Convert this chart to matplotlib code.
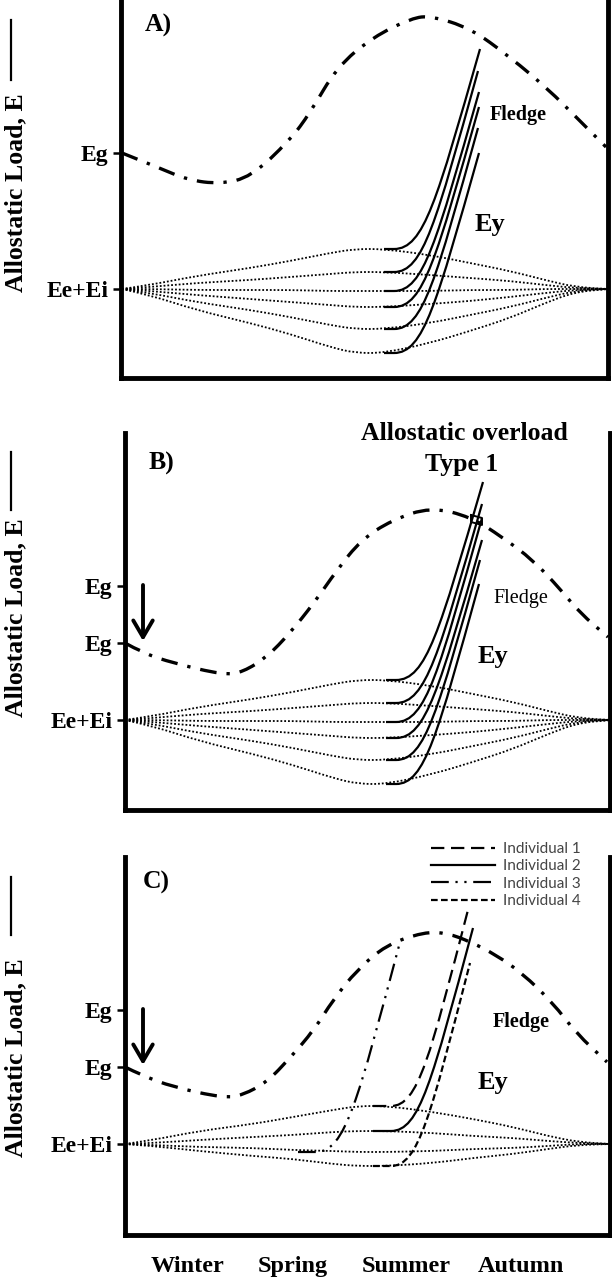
import matplotlib
matplotlib.use('Agg')
import matplotlib.pyplot as plt
from matplotlib.path import Path
from matplotlib.patches import PathPatch
from matplotlib.lines import Line2D

plt.rcParams['font.family'] = ['Liberation Serif', 'DejaVu Serif']
plt.rcParams['font.weight'] = 'bold'

W, H = 612, 1280

# ---- data (pixel units of the original figure) ----
# goal curve Eg for each panel
goal_a_x = [122, 157, 188, 220, 251, 290, 310, 337, 373, 412, 431, 470, 510, 549, 576, 606]
goal_a_y = [153, 167, 180, 184, 177, 140, 113, 67, 37, 18, 16, 28, 57, 90, 117, 147]
goal_b_x = [125, 143, 173, 224, 243, 267, 290, 314, 337, 361, 392, 431, 471, 502, 533, 561, 580, 608]
goal_b_y = [643, 653, 663, 675, 672, 657, 633, 603, 570, 540, 520, 507, 517, 537, 560, 590, 613, 637]
goal_c_x = [125, 141, 173, 224, 243, 267, 290, 314, 333, 357, 386, 424, 447, 471, 496, 522, 553, 576, 607]
goal_c_y = [1067, 1075, 1087, 1098, 1095, 1082, 1058, 1030, 1000, 970, 945, 932, 933, 942, 955, 973, 1003, 1033, 1062]

# Ee+Ei fan of dotted lines: offsets from the baseline at shared x positions
fan_x = [0, 28, 74, 128, 168, 208, 233, 262, 308, 348, 388, 423, 453, 486]
fan_ab = [
    [0, -4, -13, -21, -28, -36, -40, -40, -34, -26, -18, -9, -2, 0],
    [0, -2, -6, -9, -12, -15, -17, -17, -14, -11, -8, -4, -1, 0],
    [0, 0, 1, 1, 1, 2, 2, 2, 2, 1, 1, 0, 0, 0],
    [0, 2, 6, 10, 13, 16, 18, 18, 15, 12, 8, 4, 1, 0],
    [0, 4, 13, 21, 28, 36, 40, 40, 34, 26, 18, 9, 2, 0],
    [0, 6, 21, 34, 45, 58, 64, 64, 54, 42, 29, 14, 3, 0],
]
fan_c = [
    [0, -4, -13, -20, -27, -34, -38, -38, -32, -25, -17, -8, -2, 0],
    [0, -1, -4, -7, -9, -12, -13, -13, -11, -8, -6, -3, -1, 0],
    [0, 1, 3, 4, 6, 7, 8, 8, 7, 5, 4, 2, 0, 0],
    [0, 2, 7, 12, 15, 20, 22, 22, 19, 14, 10, 5, 1, 0],
]
base_a, base_b, base_c = 289, 720, 1144

# Ey curves (young): start x, end points
ey_x0 = 384
ey_a_end_x = [480, 478, 479, 479, 478, 479]
ey_a_end_y = [49, 71, 92, 107, 128, 153]
ey_b_end_x = [483, 482, 482, 482, 480, 479]
ey_b_end_y = [482, 504, 518, 540, 560, 584]

# panel C individuals
ind_labels = ['Individual 1', 'Individual 2', 'Individual 3', 'Individual 4']
ind_x0 = [373, 373, 298, 373]
ind_y0 = [1106, 1131, 1152, 1166]
ind_x1 = [469, 473, 400, 470]
ind_y1 = [906, 928, 942, 963]
ind_styles = [(0, (6, 3)), '-', (0, (8, 3, 1, 3, 1, 3)), (0, (3, 1.5))]

eg_a = [153]
eg_b = [586, 643]
eg_c = [1010, 1067]
seasons = ['Winter', 'Spring', 'Summer', 'Autumn']
season_x = [188, 293, 406, 521]

fig = plt.figure(figsize=(W / 100, H / 100), dpi=100)
fig.patch.set_facecolor('white')


def panel(l, t, r, b):
    ax = fig.add_axes([l / W, 1 - b / H, (r - l) / W, (b - t) / H])
    ax.set_xlim(l, r)
    ax.set_ylim(b, t)
    ax.spines['top'].set_visible(False)
    for s in ['left', 'right', 'bottom']:
        ax.spines[s].set_linewidth(3.5)
    ax.set_xticks([])
    ax.tick_params(axis='y', length=6, width=1.8, direction='out', pad=3, labelsize=17)
    ax.patch.set_alpha(0)
    return ax


def smooth(ax, xs, ys, **kw):
    pts = list(zip(xs, ys))
    verts = [pts[0]]
    codes = [Path.MOVETO]
    for i in range(1, len(pts) - 1):
        mid = ((pts[i][0] + pts[i + 1][0]) / 2, (pts[i][1] + pts[i + 1][1]) / 2)
        verts += [pts[i], mid]
        codes += [Path.CURVE3, Path.CURVE3]
    verts.append(pts[-1])
    codes.append(Path.LINETO)
    ax.add_patch(PathPatch(Path(verts, codes), fill=False, clip_on=False, **kw))


def rise(ax, x0, y0, x1, y1, flat=10, **kw):
    xa = x0 + flat
    dx, dy = x1 - xa, y1 - y0
    verts = [(x0, y0), (xa, y0), (xa + 0.35 * dx, y0), (xa + 0.5 * dx, y0 + 0.25 * dy), (x1, y1)]
    codes = [Path.MOVETO, Path.LINETO, Path.CURVE4, Path.CURVE4, Path.CURVE4]
    ax.add_patch(PathPatch(Path(verts, codes), fill=False, clip_on=False, **kw))


goal_kw = dict(lw=2.4, ls=(0, (5, 3, 1, 3)), color='black')
dot_kw = dict(lw=1.3, ls=(0, (1, 1.1)), color='black')
arrow_kw = dict(arrowstyle='->,head_length=0.6,head_width=0.35', lw=2.8,
                color='black', mutation_scale=20, shrinkA=0, shrinkB=0)


def fan(ax, left, base, rows):
    for row in rows:
        smooth(ax, [left + v for v in fan_x], [base + v for v in row], **dot_kw)


def ylab(top, line_top, line_bot):
    fig.text(16 / W, 1 - top / H, 'Allostatic Load, E', rotation=90, ha='center', va='top',
             fontsize=18.5, fontweight='bold')
    fig.add_artist(Line2D([11 / W, 11 / W], [1 - line_top / H, 1 - line_bot / H],
                          transform=fig.transFigure, color='black', lw=1.6))


# ---------------- panel A ----------------
ax = panel(121, 0, 608, 378)
ax.set_yticks([eg_a[0], base_a], ['Eg', 'Ee+Ei'])
smooth(ax, goal_a_x, goal_a_y, **goal_kw)
fan(ax, 122, base_a, fan_ab)
for row, x1, y1 in zip(fan_ab, ey_a_end_x, ey_a_end_y):
    rise(ax, ey_x0, base_a + max(row, key=abs), x1, y1, color='black', lw=1.6)
ax.text(145, 25, 'A)', fontsize=18.5, va='center')
ax.text(490, 115, 'Fledge', fontsize=14.5, va='center')
ax.text(475, 225, 'Ey', fontsize=19, va='center')
ylab(93, 20, 80)

# ---------------- panel B ----------------
ax = panel(125, 433, 610, 810)
ax.set_yticks(eg_b + [base_b], ['Eg', 'Eg', 'Ee+Ei'])
smooth(ax, goal_b_x, goal_b_y, **goal_kw)
fan(ax, 125, base_b, fan_ab)
for row, x1, y1 in zip(fan_ab, ey_b_end_x, ey_b_end_y):
    rise(ax, ey_x0 + 2, base_b + max(row, key=abs), x1, y1, color='black', lw=1.6)
ax.plot([471, 482, 482, 471, 471], [515, 518, 525, 522, 515], color='black', lw=1.4, clip_on=False)
ax.annotate('', xy=(143, eg_b[1] - 2), xytext=(143, eg_b[0] - 1), arrowprops=arrow_kw)
ax.text(149, 463, 'B)', fontsize=18.5, va='center')
ax.text(464, 433, 'Allostatic overload', fontsize=18.5, ha='center', va='center', clip_on=False)
ax.text(462, 465, 'Type 1', fontsize=18.5, ha='center', va='center')
ax.text(493, 599, 'Fledge', fontsize=14.5, va='center', fontweight='normal')
ax.text(478, 656, 'Ey', fontsize=19, va='center')
ylab(518, 452, 510)

# ---------------- panel C ----------------
ax = panel(125, 857, 610, 1235)
ax.set_yticks(eg_c + [base_c], ['Eg', 'Eg', 'Ee+Ei'])
ax.set_xticks(season_x, seasons)
ax.tick_params(axis='x', length=0, pad=15, labelsize=17.5)
smooth(ax, goal_c_x, goal_c_y, **goal_kw)
fan(ax, 125, base_c, fan_c)
handles = []
for x0, y0, x1, y1, st, lab in zip(ind_x0, ind_y0, ind_x1, ind_y1, ind_styles, ind_labels):
    rise(ax, x0, y0, x1, y1, flat=18, color='black', lw=1.6, ls=st)
    handles.append(Line2D([], [], color='black', lw=1.6, ls=st, label=lab))
ax.annotate('', xy=(143, eg_c[1] - 2), xytext=(143, eg_c[0] - 1), arrowprops=arrow_kw)
ax.text(143, 882, 'C)', fontsize=18.5, va='center')
ax.text(493, 1022, 'Fledge', fontsize=14.5, va='center')
ax.text(478, 1083, 'Ey', fontsize=19, va='center')
leg = ax.legend(handles=handles, loc='upper left', bbox_to_anchor=((431 - 125) / 485, 1 + (857 - 842) / 378),
                frameon=False, handlelength=4.2, handletextpad=0.5, labelspacing=0.22,
                borderpad=0, borderaxespad=0, prop={'family': 'Lato', 'size': 11, 'weight': 'normal'})
for t in leg.get_texts():
    t.set_color('#444444')
ylab(958, 877, 935)

fig.savefig('out.png', dpi=100)
